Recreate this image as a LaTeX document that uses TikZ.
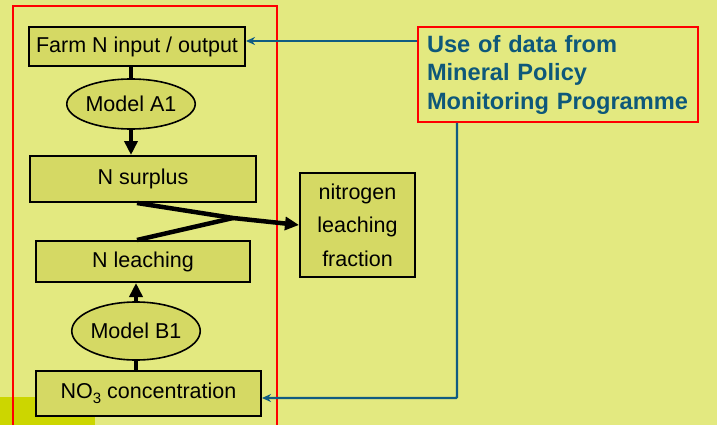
\documentclass[tikz,border=0pt]{standalone}
\usepackage{fontspec}
\setmainfont{Liberation Sans}
\usetikzlibrary{arrows.meta,shapes.geometric}
\definecolor{bg}{RGB}{227,233,128}
\definecolor{boxfill}{RGB}{213,217,100}
\definecolor{corner}{RGB}{204,214,0}
\definecolor{progblue}{RGB}{14,88,122}
\definecolor{linkblue}{RGB}{16,92,130}
\newcommand{\lowsub}[1]{\raisebox{-4.5pt}{\fontsize{15}{15}\selectfont #1}}
\begin{document}
\begin{tikzpicture}[x=1pt,y=-1pt,
  flowbox/.style={draw=black, line width=2pt, fill=boxfill, inner sep=0pt,
    font=\fontsize{21.5}{24}\selectfont},
  model/.style={ellipse, draw=black, line width=1.6pt, fill=boxfill, inner sep=0pt,
    font=\fontsize{21.5}{24}\selectfont},
  heavy/.style={line width=4.5pt, draw=black},
  heavyarrow/.style={heavy, -{Triangle[length=14pt,width=13pt]}},
  datalink/.style={draw=linkblue, line width=2.2pt, -{Stealth[length=9pt,width=8pt]}},
  frame/.style={draw=red, line width=1.8pt}]
  % page and background
  \useasboundingbox (0,0) rectangle (717,425);
  \clip (0,0) rectangle (717,425);
  \fill[bg] (0,0) rectangle (717,425);
  \fill[corner] (0,397) rectangle (95,425);
  % frame round the calculation chain
  \draw[frame] (13,6) rectangle (277,432);

  % chain of boxes and models
  \node[flowbox, minimum width=216pt, minimum height=39pt] (farm) at (137,46.5) {Farm N input / output};
  \node[model, minimum width=108pt, minimum height=50pt] (a1) at (131,104) {Model A1};
  \node[flowbox, minimum width=226pt, minimum height=46pt] (surplus) at (143,179) {N surplus};
  \node[flowbox, minimum width=214pt, minimum height=41pt] (leach) at (143,261.5) {N leaching};
  \node[model, minimum width=108pt, minimum height=58pt] (b1) at (136,331) {Model B1};
  \node[flowbox, minimum width=225pt, minimum height=45pt] (no3) at (148.5,393.5) {NO\lowsub{3} concentration};
  \node[flowbox, minimum width=115pt, minimum height=104pt, align=center,
    font=\fontsize{21.5}{33.5}\selectfont] (frac) at (357.5,225) {nitrogen\\leaching\\fraction};

  % data source
  \node[draw=red, line width=1.8pt, minimum width=280pt, minimum height=95pt, inner xsep=9pt,
    text width=262pt, align=left, text=progblue,
    font=\fontsize{23.6}{28.5}\bfseries\selectfont] (mpmp) at (558,74.5)
    {Use of data from\\Mineral Policy\\Monitoring Programme};

  % connectors of the chain
  \draw[heavy] (a1.north) -- (a1.north |- farm.south);
  \draw[heavyarrow] (a1.south) -- (a1.south |- surplus.north);
  \draw[heavy] (b1.south) -- (b1.south |- no3.north);
  \draw[heavyarrow] (b1.north) -- (b1.north |- leach.south);

  % surplus and leaching combine into the fraction
  \coordinate (merge) at (233,218);
  \draw[heavy, line join=round] ([xshift=-6pt]leach.north) -- (merge);
  \draw[heavyarrow, line join=round] ([xshift=-6pt]surplus.south) -- (merge) -- (frac.west);

  % data links
  \coordinate (farmin) at ([yshift=5.5pt]farm.east);
  \draw[datalink] (mpmp.west |- farmin) -- (farmin);
  \coordinate (drop) at ([xshift=-101pt]mpmp.south);
  \coordinate (no3in) at ([yshift=-4.5pt]no3.east);
  \draw[datalink, rounded corners=1pt] (drop) |- (no3in);
\end{tikzpicture}
\end{document}
